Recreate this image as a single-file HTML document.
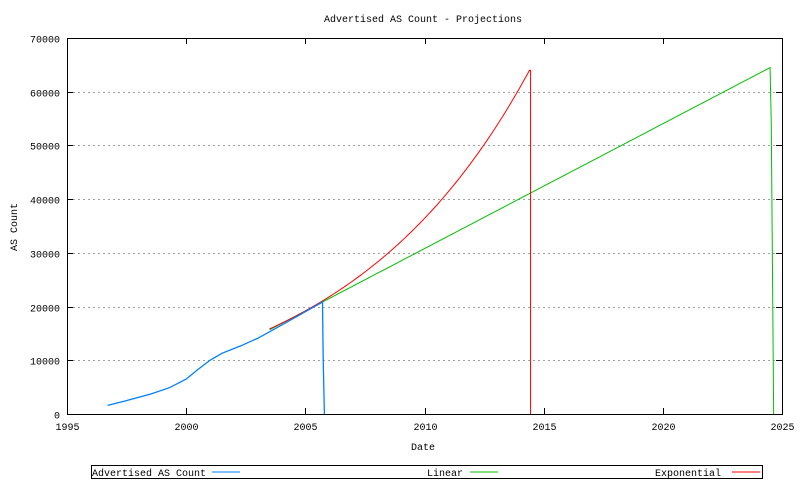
<!DOCTYPE html>
<html><head><meta charset="utf-8"><style>
body{margin:0;background:#fff}
svg text{font-family:"Liberation Mono","DejaVu Sans Mono",monospace;font-size:10px;fill:#000}
</style></head><body>
<svg id="s" width="800" height="480" xmlns="http://www.w3.org/2000/svg">
<text x="423" y="22" text-anchor="middle">Advertised AS Count - Projections</text>
<g id="grid" stroke="#a0a0a0" stroke-dasharray="2,3" stroke-width="1"></g>
<g id="ticks" stroke="#000" stroke-width="1"></g>
<rect x="67.5" y="38.5" width="715" height="376" fill="none" stroke="#000"/>
<text transform="translate(17,227) rotate(-90)" text-anchor="middle">AS Count</text>
<text x="423" y="450" text-anchor="middle">Date</text>
<g id="lbl"></g>
<polyline id="lin" fill="none" stroke="#00c000" stroke-width="1"/>
<polyline id="exp" fill="none" stroke="#ff0000" stroke-width="1"/>
<polyline id="adv" fill="none" stroke="#0080ff" stroke-width="1.3"/>
<rect x="91.5" y="465.5" width="671" height="13" fill="none" stroke="#000"/>
<text x="92" y="476">Advertised AS Count</text>
<line x1="212" y1="472" x2="240" y2="472" stroke="#0080ff"/>
<text x="427" y="476">Linear</text>
<line x1="470" y1="472" x2="498" y2="472" stroke="#00c000"/>
<text x="655" y="476">Exponential</text>
<line x1="732" y1="472" x2="760" y2="472" stroke="#ff0000"/>
</svg>
<script>
var X=function(y){return 67+(y-1995)*715/30},Y=function(v){return 414-v*376/70000};
var ns="http://www.w3.org/2000/svg";
function el(p,t,a,txt){var e=document.createElementNS(ns,t);for(var k in a)e.setAttribute(k,a[k]);if(txt)e.textContent=txt;document.getElementById(p).appendChild(e);}
for(var v=0;v<=70000;v+=10000){var y=Math.round(Y(v))+0.5;
 if(v>0&&v<70000)el("grid","line",{x1:68,x2:782,y1:y,y2:y});
 el("ticks","line",{x1:67,x2:73,y1:y,y2:y});el("ticks","line",{x1:776,x2:782,y1:y,y2:y});
 el("lbl","text",{x:60,y:y+4,"text-anchor":"end"},String(v));}
for(var yr=1995;yr<=2025;yr+=5){var x=Math.round(X(yr))+0.5;
 el("ticks","line",{x1:x,x2:x,y1:414,y2:408});el("ticks","line",{x1:x,x2:x,y1:38,y2:44});
 el("lbl","text",{x:x,y:430,"text-anchor":"middle"},String(yr));}
var a=[[1996.7,1600],[1997.5,2500],[1998.5,3700],[1999.3,4900],[2000,6500],[2000.5,8300],[2001,10000],[2001.5,11300],[2002.3,12700],[2003,14100],[2003.5,15300],[2004.5,17800],[2005.7,20800],[2005.72,21000],[2005.75,10000],[2005.8,0]];
document.getElementById("adv").setAttribute("points",a.map(function(p){return X(p[0])+","+Y(p[1])}).join(" "));
var e=[];for(var t=2003.5;t<=2014.4;t+=0.1)e.push([t,21000*Math.exp(0.128*(t-2005.7))]);e.push([2014.45,64000],[2014.45,0]);
document.getElementById("exp").setAttribute("points",e.map(function(p){return X(p[0])+","+Y(p[1])}).join(" "));
var l=[[2003.5,20800-2325*2.2],[2024.5,64500],[2024.55,54000],[2024.65,0]];
document.getElementById("lin").setAttribute("points",l.map(function(p){return X(p[0])+","+Y(p[1])}).join(" "));
</script>
</body></html>
